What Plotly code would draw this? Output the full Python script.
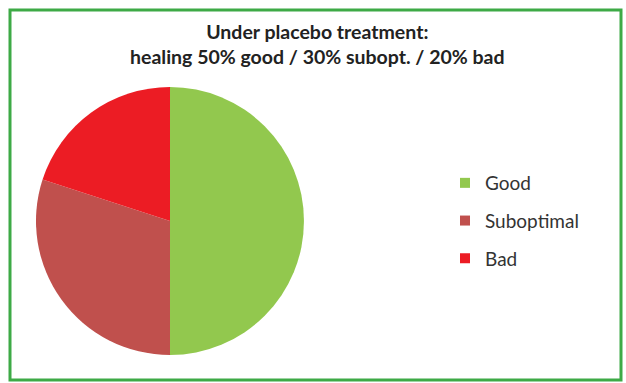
import plotly.graph_objects as go

categories = ["Good", "Suboptimal", "Bad"]
values = [50, 30, 20]
colors = ["#92C84E", "#C0504D", "#EC1C24"]
title_lines = ["Under placebo treatment:", "healing 50% good / 30% subopt. / 20% bad"]

W, H = 626, 383
fig = go.Figure()
fig.add_trace(go.Pie(
    labels=categories, values=values, sort=False, direction="clockwise",
    rotation=0, marker=dict(colors=colors, line=dict(width=0)),
    textinfo="none", hoverinfo="label+percent", showlegend=False,
    domain=dict(x=[36 / W, 304 / W], y=[1 - 355 / H, 1 - 87 / H]),
))
for c, col in zip(categories, colors):
    fig.add_trace(go.Scatter(
        x=[None], y=[None], mode="markers", name=c, legendgroup=c,
        marker=dict(symbol="square", size=10, color=col),
    ))

fig.update_layout(
    width=W, height=H, margin=dict(l=0, r=0, t=0, b=0),
    paper_bgcolor="white", plot_bgcolor="white",
    xaxis=dict(visible=False), yaxis=dict(visible=False),
    legend=dict(x=445 / W, y=1 - 164 / H, xanchor="left", yanchor="top",
                font=dict(family="Lato", size=19, color="#333333"),
                tracegroupgap=10, itemwidth=30, bgcolor="rgba(0,0,0,0)"),
    annotations=[dict(
        text="<b>" + "<br>".join(title_lines) + "</b>", x=317 / W, y=1 - 18 / H,
        xref="paper", yref="paper", xanchor="center", yanchor="top",
        showarrow=False, font=dict(family="Lato", size=19.5, color="#222222"),
    )],
    shapes=[dict(type="rect", xref="paper", yref="paper",
                 x0=10 / W, x1=621 / W, y0=1 - 380 / H, y1=1 - 10 / H,
                 line=dict(color="#3DAA46", width=3))],
)
fig.write_html("out.html")
